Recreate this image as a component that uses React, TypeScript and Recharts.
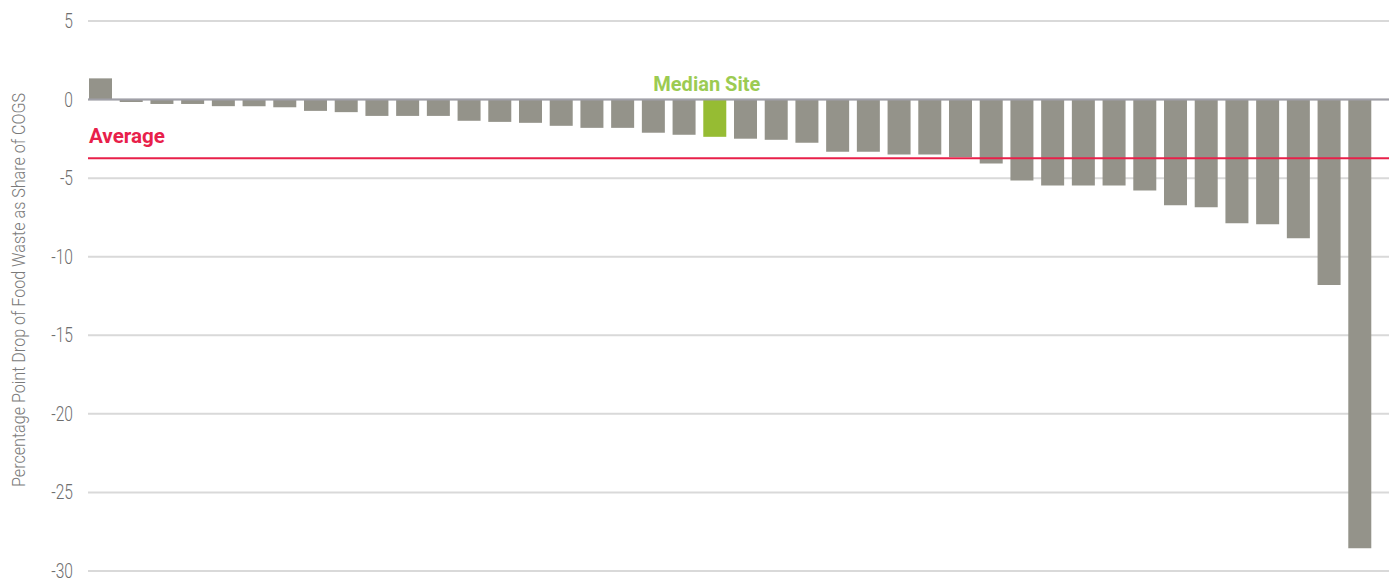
import React from 'react'
import {
  BarChart,
  Bar,
  Cell,
  XAxis,
  YAxis,
  CartesianGrid,
  ReferenceLine,
  LabelList,
} from 'recharts'

// Change in food waste share of COGS per site, sorted best to worst
const siteIds = Array.from({ length: 42 }, (_, i) => `Site ${i + 1}`)
const siteValues = [
  1.35, -0.15, -0.28, -0.28, -0.42, -0.42, -0.49, -0.72, -0.8, -1.04, -1.04, -1.04,
  -1.35, -1.42, -1.48, -1.67, -1.8, -1.8, -2.11, -2.24, -2.37, -2.49, -2.56, -2.75,
  -3.32, -3.32, -3.5, -3.5, -3.65, -4.07, -5.15, -5.47, -5.47, -5.47, -5.78, -6.73,
  -6.86, -7.87, -7.94, -8.82, -11.8, -28.55,
]
const yTicks = [5, 0, -5, -10, -15, -20, -25, -30]
const medianSite = 'Site 21'

const chartData = siteIds.map((name, i) => ({ name, value: siteValues[i] }))
const average = siteValues.reduce((s, v) => s + v, 0) / siteValues.length

const GRAY = '#94938a'
const GREEN = '#96bc33'
const RED = '#e8204a'
const CONDENSED = 'Roboto, "Noto Sans", sans-serif'

const YTick = ({ x, y, payload }: any) => (
  <text
    transform={`translate(${x},${y}) scale(0.76,1)`}
    textAnchor="end"
    dy={7}
    fontFamily={CONDENSED}
    fontWeight={300}
    fontSize={20.5}
    fill="#6e6e6e"
  >
    {payload.value}
  </text>
)

const AxisTitle = () => (
  <text
    transform="translate(25,290) rotate(-90)"
    textAnchor="middle"
    fontFamily={CONDENSED}
    fontWeight={300}
    fontSize={19}
    fill="#7a7a7a"
    textLength={394}
    lengthAdjust="spacingAndGlyphs"
  >
    Percentage Point Drop of Food Waste as Share of COGS
  </text>
)

const AverageLabel = ({ viewBox }: any) => (
  <text
    x={viewBox.x + 1}
    y={viewBox.y - 15}
    fontFamily={CONDENSED}
    fontWeight={700}
    fontSize={21}
    fill={RED}
    textLength={76}
    lengthAdjust="spacingAndGlyphs"
  >
    Average
  </text>
)

// label sits a little left of the bar centre
const MedianLabel = (props: any) => {
  const { x, y, width, height, index } = props
  if (chartData[index]?.name !== medianSite) return null
  const top = Math.min(Number(y), Number(y) + Number(height))
  return (
    <text
      x={Number(x) + Number(width) / 2 - 8}
      y={top - 8.5}
      textAnchor="middle"
      fontFamily={CONDENSED}
      fontWeight={700}
      fontSize={21}
      fill="#9ccb52"
      textLength={107}
      lengthAdjust="spacingAndGlyphs"
    >
      Median Site
    </text>
  )
}

export default function App() {
  return (
    <div style={{ width: 1395, height: 582 }}>
      <style>{'body { margin: 0; }'}</style>
      <BarChart
        width={1395}
        height={582}
        data={chartData}
        margin={{ top: 21, right: 6, bottom: 11, left: 0 }}
        barSize={23}
      >
        <CartesianGrid vertical={false} stroke="#d9d9d9" strokeWidth={2} />
        <XAxis dataKey="name" hide padding={{ left: -3, right: 14 }} />
        <YAxis
          width={88}
          domain={[-30, 5]}
          ticks={yTicks}
          axisLine={false}
          tickLine={false}
          tickSize={0}
          tickMargin={15}
          tick={<YTick />}
          label={<AxisTitle />}
        />
        <ReferenceLine y={0} stroke="#a0a0a8" strokeWidth={2} />
        <Bar dataKey="value" isAnimationActive={false}>
          {chartData.map((d) => (
            <Cell key={d.name} fill={d.name === medianSite ? GREEN : GRAY} />
          ))}
          <LabelList dataKey="value" content={<MedianLabel />} />
        </Bar>
        <ReferenceLine
          y={average}
          stroke={RED}
          strokeWidth={2}
          label={<AverageLabel />}
        />
      </BarChart>
    </div>
  )
}
